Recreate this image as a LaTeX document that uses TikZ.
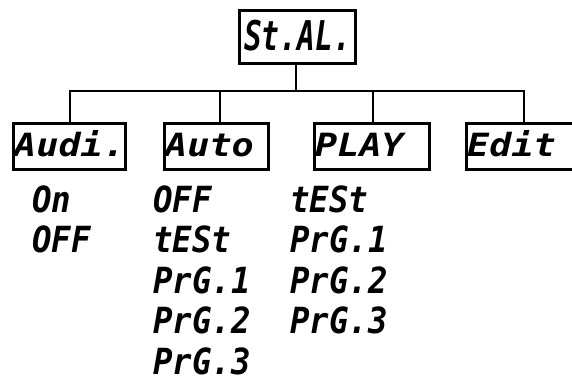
\documentclass[tikz,border=0pt]{standalone}
\usepackage{fontspec}
\newfontfamily\listfont[FakeStretch=0.9]{DejaVu Sans Mono Bold Oblique}
\newfontfamily\boxfont[FakeStretch=1.15]{DejaVu Sans Mono Bold Oblique}
\newfontfamily\rootfont[FakeStretch=0.72]{DejaVu Sans Mono Bold Oblique}
\begin{document}
\begin{tikzpicture}[x=1pt,y=-1pt,
  conn/.style={line width=2.8pt},
  menubox/.style={draw,line width=2.8pt,inner sep=0pt,minimum height=46pt,anchor=north west},
  boxlbl/.style={font=\boxfont\fontsize{32}{32}\selectfont,inner sep=0pt,anchor=base west},
  lbl/.style={font=\listfont\fontsize{36}{36}\selectfont,inner sep=0pt,anchor=base west}]
\useasboundingbox (0,0) rectangle (572,383);
% root
\node[menubox,minimum width=116pt,minimum height=53pt] (root) at (238,9) {};
\node[font=\rootfont\fontsize{41}{41}\selectfont,inner sep=0pt,anchor=base west] (roott) at (244,50) {St.AL.};
% sub boxes
\node[menubox,minimum width=112pt] (audi) at (12,122) {};
\node[menubox,minimum width=104pt] (auto) at (163,122) {};
\node[menubox,minimum width=115pt] (play) at (313,122) {};
\node[menubox,minimum width=125pt] (edit) at (465,122) {};
\node[boxlbl] (audit) at (14,156) {Audi.};
\node[boxlbl] (autot) at (165,156) {Auto};
\node[boxlbl] (playt) at (315,156) {PLAY};
\node[boxlbl] (editt) at (467,156) {Edit};
% connectors
\coordinate (hub) at (296,91);
\coordinate (ja) at (70,91);
\coordinate (jb) at (220,91);
\coordinate (jc) at (373,91);
\coordinate (jd) at (524,91);
\draw[conn] (root.south -| hub) -- (hub);
\draw[conn,line cap=rect] (ja) -- (jd);
\draw[conn] (ja) -- (ja |- audi.north);
\draw[conn] (jb) -- (jb |- auto.north);
\draw[conn] (jc) -- (jc |- play.north);
\draw[conn] (jd) -- (jd |- edit.north);
% lists
\node[lbl] (a1) at (32,212) {On};
\node[lbl] (a2) at (32,252.5) {OFF};
\node[lbl] (b1) at (153,212) {OFF};
\node[lbl] (b2) at (153,252.5) {tESt};
\node[lbl] (b3) at (153,293) {PrG.1};
\node[lbl] (b4) at (153,333.5) {PrG.2};
\node[lbl] (b5) at (153,374) {PrG.3};
\node[lbl] (c1) at (290,212) {tESt};
\node[lbl] (c2) at (290,252.5) {PrG.1};
\node[lbl] (c3) at (290,293) {PrG.2};
\node[lbl] (c4) at (290,333.5) {PrG.3};
\end{tikzpicture}
\end{document}
